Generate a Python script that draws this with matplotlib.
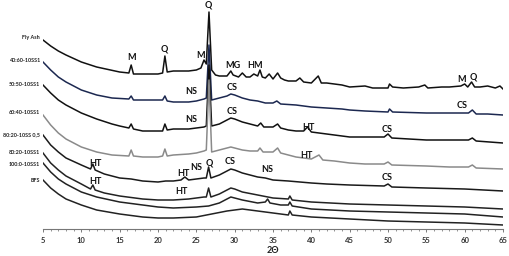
import numpy as np
import matplotlib
matplotlib.use("Agg")
import matplotlib.pyplot as plt

plt.rcParams["font.family"] = ["Lato", "DejaVu Sans"]

# XRD patterns (2-theta, intensity in a.u.)
fly_ash_t = [5, 6, 7, 8, 10, 12, 15, 16.2, 16.5, 16.8, 18, 20, 20.6, 20.9, 21.2, 22, 24, 25, 25.6, 26.0, 26.3, 26.65, 27.0, 27.5, 28, 29, 29.5, 29.8, 30.5, 31, 31.5, 32, 32.5, 33, 33.3, 33.6, 34, 34.5, 35, 35.6, 36, 36.5, 37, 38, 38.5, 39, 40, 40.9, 41.3, 42, 44, 45, 47, 48, 50, 50.2, 50.6, 52, 54, 54.8, 55.2, 57, 58, 59.5, 60, 60.4, 60.9, 61.3, 62, 63, 64, 64.6, 65]
fly_ash_i = [189, 183, 178, 174, 167, 162, 157, 156, 164, 155, 155, 155, 156, 173, 157, 158, 158, 159, 161, 169, 165, 217, 159, 154, 153, 153, 158, 154, 152, 156, 152, 152, 155, 153, 159, 152, 151, 155, 150, 156, 151, 149, 148, 148, 151, 147, 146, 153, 146, 146, 144, 142, 143, 141, 141, 145, 142, 141, 142, 144, 141, 142, 142, 143, 145, 142, 147, 142, 142, 143, 141, 143, 140]

s4060_t = [5, 6, 7, 8, 10, 12, 14, 16.2, 16.5, 16.8, 18, 20, 20.6, 20.9, 21.2, 22, 24, 25, 26, 26.3, 26.65, 27, 28, 29, 29.5, 30, 31, 32, 33, 34, 35, 35.5, 36, 38, 40, 42, 44, 45, 47, 50, 50.2, 50.6, 55, 58, 60.5, 61, 61.5, 63, 65]
s4060_i = [167, 159, 152, 147, 139, 134, 131, 130, 133, 129, 129, 129, 129, 133, 128, 127, 127, 128, 130, 131, 184, 129, 131, 133, 135, 134, 131, 129, 128, 126, 126, 128, 125, 124, 122, 121, 120, 119, 118, 117, 120, 117, 116, 116, 116, 119, 115, 115, 114]

s5050_t = [5, 6, 7, 8, 10, 12, 14, 15, 16.2, 16.5, 16.8, 18, 20, 20.6, 20.9, 21.2, 22, 24, 25, 26, 26.3, 26.65, 27, 28, 29, 29.5, 30, 31, 32, 33, 33.4, 33.8, 35, 35.6, 36, 37, 38, 39, 39.5, 40, 42, 44, 45, 47, 49.5, 50, 50.5, 55, 58, 60.5, 61, 61.5, 65]
s5050_i = [144, 136, 129, 124, 116, 110, 105, 103, 101, 105, 100, 98, 98, 98, 105, 99, 100, 100, 101, 102, 103, 164, 103, 105, 109, 111, 110, 107, 105, 103, 106, 102, 102, 105, 101, 99, 98, 98, 102, 97, 95, 93, 92, 92, 92, 95, 91, 89, 89, 89, 91, 88, 86]

s6040_t = [5, 6, 7, 8, 10, 12, 14, 16.2, 16.5, 16.8, 18, 20, 20.6, 20.9, 21.2, 22, 24, 25, 26, 26.3, 26.65, 27, 28, 29, 29.5, 30, 31, 32, 33, 33.3, 33.7, 35, 35.6, 36, 37, 38, 40, 41, 41.5, 43, 45, 47, 49.5, 50, 50.5, 55, 58, 60.5, 61, 61.5, 65]
s6040_i = [114, 104, 96, 90, 82, 77, 74, 73, 79, 73, 72, 72, 73, 80, 73, 74, 75, 76, 78, 79, 149, 77, 79, 81, 82, 81, 79, 78, 78, 81, 77, 77, 81, 76, 74, 72, 70, 74, 69, 68, 66, 65, 65, 67, 64, 63, 62, 62, 64, 61, 60]

s8020_05_t = [5, 6, 7, 8, 10, 11.2, 11.5, 11.8, 13, 15, 16.5, 18, 20, 21, 22, 23, 23.5, 24, 25, 26, 26.3, 26.6, 26.9, 28, 29, 29.5, 30, 31, 32, 33, 34, 35, 37, 40, 42, 45, 49.5, 50, 50.5, 55, 60, 65]
s8020_05_i = [94, 84, 77, 71, 64, 60, 65, 59, 55, 51, 50, 48, 47, 48, 48, 49, 52, 49, 50, 51, 51, 62, 51, 54, 58, 60, 59, 56, 54, 52, 51, 49, 48, 46, 45, 44, 43, 45, 42, 41, 40, 38]

s8020_t = [5, 6, 7, 8, 10, 11.2, 11.5, 11.8, 13, 15, 18, 20, 22, 24, 25, 26, 26.3, 26.6, 26.9, 28, 29, 29.5, 30, 31, 33, 35, 37, 37.2, 37.5, 40, 45, 50, 55, 60, 65]
s8020_i = [76, 66, 59, 53, 45, 40, 44, 39, 36, 33, 30, 29, 29, 30, 31, 32, 32, 41, 32, 35, 39, 41, 40, 37, 34, 31, 30, 33, 29, 27, 25, 24, 23, 22, 20]

s1000_t = [5, 6, 7, 8, 10, 12, 15, 18, 20, 22, 25, 26.6, 28, 29, 29.5, 30, 31, 33, 34, 34.3, 34.6, 36, 37, 37.2, 37.5, 40, 45, 50, 55, 60, 65]
s1000_i = [66, 57, 50, 45, 37, 32, 27, 24, 22, 21, 22, 23, 26, 30, 32, 31, 29, 26, 27, 30, 26, 24, 24, 27, 23, 20, 18, 17, 16, 15, 12]

bfs_t = [5, 6, 7, 8, 10, 12, 15, 18, 20, 22, 25, 27, 29, 31, 33, 35, 37, 37.2, 37.5, 40, 45, 50, 55, 60, 65]
bfs_i = [49, 41, 35, 30, 24, 19, 15, 12, 11, 11, 12, 15, 18, 20, 18, 16, 14, 18, 14, 12, 10, 8, 7, 6, 4]

sample_names = ["Fly Ash", "40:60-10SS1", "50:50-10SS1", "60:40-10SS1",
                "80:20-10SS 0,5", "80:20-10SS1", "100:0-10SS1", "BFS"]
sample_label_i = [192, 168, 145, 116, 94, 77, 64, 49]
colors = ["#111111", "#1c2850", "#111111", "#8a8a8a",
          "#1a1a1a", "#222222", "#222222", "#222222"]

# phase markers: text, 2-theta, intensity
phase_txt = ["M", "Q", "Q", "M", "MG", "HM", "M", "Q",
             "NS", "CS", "CS", "NS", "CS", "HT", "HT", "CS",
             "HT", "HT", "NS", "Q", "CS", "NS", "CS", "HT", "HT"]
phase_t = [16.6, 20.8, 26.5, 25.6, 29.8, 32.65, 59.65, 61.1,
           24.4, 29.65, 59.65, 24.4, 29.65, 39.6, 39.4, 49.9,
           11.8, 23.3, 25.0, 26.65, 29.4, 34.3, 49.9, 11.8, 23.1]
phase_i = [171, 180, 224, 174, 164, 164, 150, 152,
           137, 142, 124, 110, 117, 102, 74, 99,
           66, 56, 61, 66, 67, 59, 51, 47, 37]

series = [(fly_ash_t, fly_ash_i), (s4060_t, s4060_i), (s5050_t, s5050_i),
          (s6040_t, s6040_i), (s8020_05_t, s8020_05_i), (s8020_t, s8020_i),
          (s1000_t, s1000_i), (bfs_t, bfs_i)]

fig = plt.figure(figsize=(5.1, 2.56), dpi=100)
ax = fig.add_axes([43 / 510, 27 / 256, 460 / 510, 229 / 256])

for (t, i), c in zip(series, colors):
    ax.plot(t, i, color=c, linewidth=1.1)

for name, yi in zip(sample_names, sample_label_i):
    ax.annotate(name, xy=(5, yi), xytext=(-2, 0), textcoords="offset points",
                ha="right", va="center", fontsize=3.9, fontweight="bold", color="#222222")

for txt, t, yi in zip(phase_txt, phase_t, phase_i):
    ax.text(t, yi, txt, ha="center", va="center", fontsize=6.5,
            fontweight="bold", color="#111111")

ax.set_xlim(5, 65)
ax.set_ylim(0, 229)
ax.set_xticks(np.arange(5, 66, 5))
ax.set_xticks(np.arange(5, 66, 1), minor=True)
ax.tick_params(axis="x", which="major", labelsize=5.5, length=2.5, width=0.6,
               color="#666666", labelcolor="#333333", pad=3.5)
ax.tick_params(axis="x", which="minor", length=1.5, width=0.5, color="#666666")
for lbl in ax.get_xticklabels():
    lbl.set_fontweight("bold")
ax.set_yticks([])
for side in ["top", "right", "left"]:
    ax.spines[side].set_visible(False)
ax.spines["bottom"].set_color("#777777")
ax.spines["bottom"].set_linewidth(0.8)
ax.set_xlabel("2Θ", fontsize=6.5, fontweight="bold", labelpad=1, color="#222222")

fig.savefig("out.png", dpi=100)
